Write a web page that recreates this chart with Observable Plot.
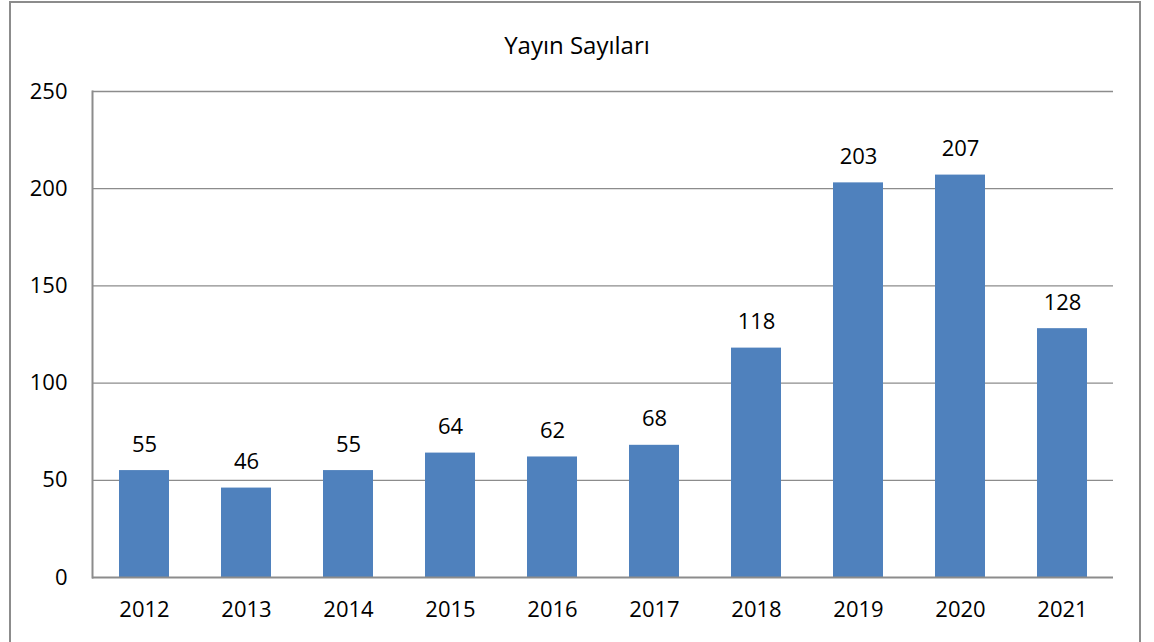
<!DOCTYPE html>
<html>
<head>
<meta charset="utf-8">
<script src="https://cdn.jsdelivr.net/npm/d3@7"></script>
<script src="https://cdn.jsdelivr.net/npm/@observablehq/plot@0.6"></script>
<style>
  html, body { margin: 0; padding: 0; background: #fff; overflow: hidden; }
  #frame { position: absolute; left: 9px; top: 1px; width: 1132px; height: 700px; border: 2px solid #8c8c8c; box-sizing: border-box; }
  #title { position: absolute; left: 0; top: 29px; width: 1154px; text-align: center; font-family: "Open Sans", sans-serif; font-size: 24px; color: #000; line-height: 32px; }
  #chart { position: absolute; left: 0; top: 70px; }
</style>
</head>
<body>
<div id="frame"></div>
<div id="title">Yayın Sayıları</div>
<div id="chart"></div>
<script>
const years = ["2012","2013","2014","2015","2016","2017","2018","2019","2020","2021"];
const counts = [55, 46, 55, 64, 62, 68, 118, 203, 207, 128];
const yTicks = [0, 50, 100, 150, 200, 250];

const data = years.map((y, i) => ({year: y, count: counts[i]}));

const chart = Plot.plot({
  width: 1154,
  height: 572,
  marginLeft: 92,
  marginRight: 41,
  marginTop: 21,
  marginBottom: 65,
  style: { fontFamily: "'Open Sans', sans-serif", fontSize: "22px", color: "#000", background: "transparent" },
  x: { domain: years, paddingInner: 0.51, paddingOuter: 0.255, label: null, tickSize: 0, tickPadding: 24 },
  y: { domain: [0, 250], ticks: yTicks, label: null, tickSize: 0, tickPadding: 25 },
  marks: [
    Plot.gridY(yTicks.filter(d => d > 0), { stroke: "#8c8c8c", strokeOpacity: 1, strokeWidth: 1.3 }),
    Plot.barY(data, { x: "year", y: "count", fill: "#4F81BD" }),
    Plot.ruleY([0], { stroke: "#8c8c8c", strokeWidth: 2 }),
    Plot.frame({ anchor: "left", stroke: "#8c8c8c", strokeWidth: 2 }),
    Plot.text(data, { x: "year", y: "count", text: d => String(d.count), lineAnchor: "bottom", dy: -19, fontSize: 22, fill: "#000" })
  ]
});
document.getElementById("chart").appendChild(chart);
</script>
</body>
</html>
